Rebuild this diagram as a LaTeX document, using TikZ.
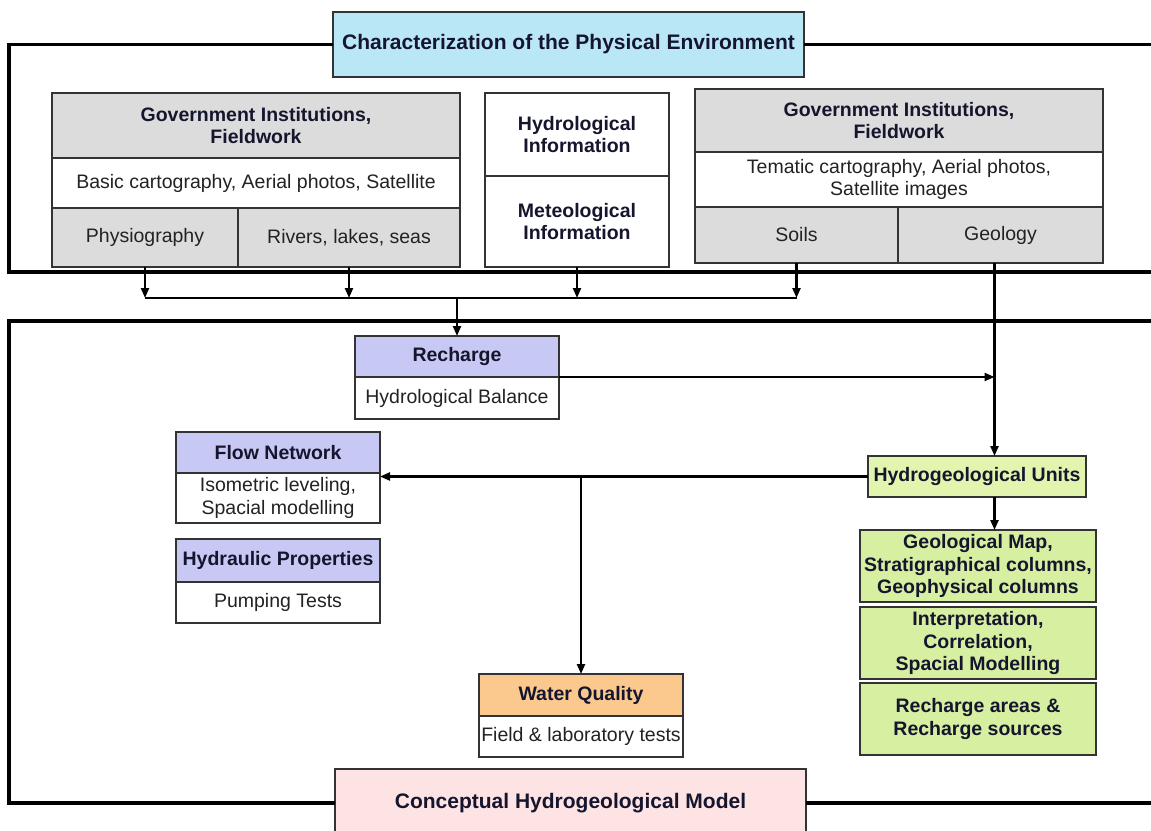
\documentclass[tikz,border=0pt]{standalone}
\usepackage{fontspec}
\setmainfont{Liberation Sans}
\usetikzlibrary{arrows.meta,calc}
\definecolor{ttlcyan}{HTML}{BAE7F6}
\definecolor{cellgray}{HTML}{DCDCDC}
\definecolor{lav}{HTML}{C8C8F4}
\definecolor{hugreen}{HTML}{E2F5AE}
\definecolor{geogreen}{HTML}{D6EFA1}
\definecolor{wqorange}{HTML}{FBC98E}
\definecolor{cpink}{HTML}{FDE3E3}
\definecolor{navytext}{HTML}{15152E}
\definecolor{bodytext}{HTML}{222222}
\newcommand\regf{\fontsize{19.5}{22.5}\selectfont}
\newcommand\bff{\fontsize{19.5}{22.5}\selectfont\bfseries}
\newcommand\ttlf{\fontsize{21}{24}\selectfont\bfseries}
\begin{document}
\begin{tikzpicture}[x=1pt,y=-1pt,
  cell/.style={draw=black!80, line width=1.4pt, inner sep=0pt, outer sep=0pt,
    anchor=north west, align=center, text=bodytext, font=\regf, fill=white},
  hcell/.style={cell, text=navytext, font=\bff},
  ttl/.style={cell, text=navytext, font=\ttlf},
  frame/.style={line width=3.2pt, black},
  conn/.style={line width=2.2pt, black},
  arr/.style={conn, -{Triangle[length=10pt,width=8pt]}}
]
\useasboundingbox[fill=white] (0,0) rectangle (1151,830);

% ---- frames
\coordinate (f1tl) at (9,45);
\coordinate (f1bl) at (9,272);
\coordinate (f1br) at (1152,272);
\coordinate (f1tr) at (1152,45);
\coordinate (f2tl) at (9,321);
\coordinate (f2tr) at (1152,321);
\coordinate (f2bl) at (9,803);
\coordinate (f2br) at (1152,803);

% ---- top block
\node[ttl, fill=ttlcyan, minimum width=471, minimum height=65] (title) at (333,12)
  {Characterization of the Physical Environment};

\node[hcell, fill=cellgray, minimum width=408, minimum height=65] (g1h) at (52,93)
  {Government Institutions,\\Fieldwork};
\node[cell, minimum width=408, minimum height=50] (g1m) at (52,158)
  {Basic cartography, Aerial photos, Satellite};
\node[cell, fill=cellgray, minimum width=186, minimum height=59] (g1a) at (52,208)
  {Physiography};
\node[cell, fill=cellgray, minimum width=222, minimum height=59] (g1b) at (238,208)
  {Rivers, lakes, seas};

\node[hcell, minimum width=184, minimum height=83] (hy1) at (485,93)
  {Hydrological\\Information};
\node[hcell, minimum width=184, minimum height=91] (hy2) at (485,176)
  {Meteological\\Information};

\node[hcell, fill=cellgray, minimum width=408, minimum height=63] (g2h) at (695,89)
  {Government Institutions,\\Fieldwork};
\node[cell, minimum width=408, minimum height=55] (g2m) at (695,152)
  {Tematic cartography, Aerial photos,\\Satellite images};
\node[cell, fill=cellgray, minimum width=203, minimum height=56] (g2a) at (695,207)
  {Soils};
\node[cell, fill=cellgray, minimum width=205, minimum height=56] (g2b) at (898,207)
  {Geology};

% ---- lower block
\node[hcell, fill=lav, minimum width=204, minimum height=41] (rh) at (355,336) {Recharge};
\node[cell, minimum width=204, minimum height=42] (rb) at (355,377) {Hydrological Balance};

\node[hcell, fill=lav, minimum width=204, minimum height=41] (fh) at (176,432) {Flow Network};
\node[cell, minimum width=204, minimum height=50] (fb) at (176,473)
  {Isometric leveling,\\Spacial modelling};

\node[hcell, fill=lav, minimum width=204, minimum height=43] (ph) at (176,539) {Hydraulic Properties};
\node[cell, minimum width=204, minimum height=41] (pb) at (176,582) {Pumping Tests};

\node[hcell, fill=wqorange, minimum width=204, minimum height=42] (wh) at (479,674) {Water Quality};
\node[cell, minimum width=204, minimum height=41] (wb) at (479,716) {Field \& laboratory tests};

\node[hcell, fill=hugreen, minimum width=218, minimum height=41] (hu) at (868,456)
  {Hydrogeological Units};
\node[hcell, fill=geogreen, minimum width=236, minimum height=72] (gm) at (860,530)
  {Geological Map,\\Stratigraphical columns,\\Geophysical columns};
\node[hcell, fill=geogreen, minimum width=236, minimum height=72] (ip) at (860,607)
  {Interpretation,\\Correlation,\\Spacial Modelling};
\node[hcell, fill=geogreen, minimum width=236, minimum height=72] (ra) at (860,683)
  {Recharge areas \&\\Recharge sources};

\node[ttl, fill=cpink, minimum width=471, minimum height=68] (cm) at (335,769)
  {Conceptual Hydrogeological Model};

% ---- frame lines
\draw[frame] (title.west) -- (title.west -| f1tl) -- (f1bl) -- (f1br);
\draw[frame] (title.east) -- (title.east -| f1tr);
\draw[frame] (f2tr) -- (f2tl) -- (f2bl) -- (cm.west |- f2bl);
\draw[frame] (cm.east |- f2br) -- (f2br);

% ---- connectors top
\coordinate (busL) at (145,298);
\draw[arr] (g1a.south) -- (g1a.south |- busL);
\draw[arr] (g1b.south) -- (g1b.south |- busL);
\draw[arr] (hy2.south) -- (hy2.south |- busL);
\draw[arr] (g2a.south) -- (g2a.south |- busL);
\draw[conn] (g1a.south |- busL) -- (g2a.south |- busL);
\draw[arr] (rh.north |- busL) -- (rh.north);

\coordinate (geoOut) at ([xshift=-6pt]g2b.south);
\draw[arr] (geoOut) -- (geoOut |- hu.north);
\draw[arr] (rh.south east) -- (rh.south east -| geoOut);
\draw[arr] (geoOut |- hu.south) -- (geoOut |- gm.north);

\draw[arr] (hu.west) -- (hu.west -| fb.east);
\draw[arr] (wh.north |- hu.west) -- (wh.north);
\end{tikzpicture}
\end{document}
